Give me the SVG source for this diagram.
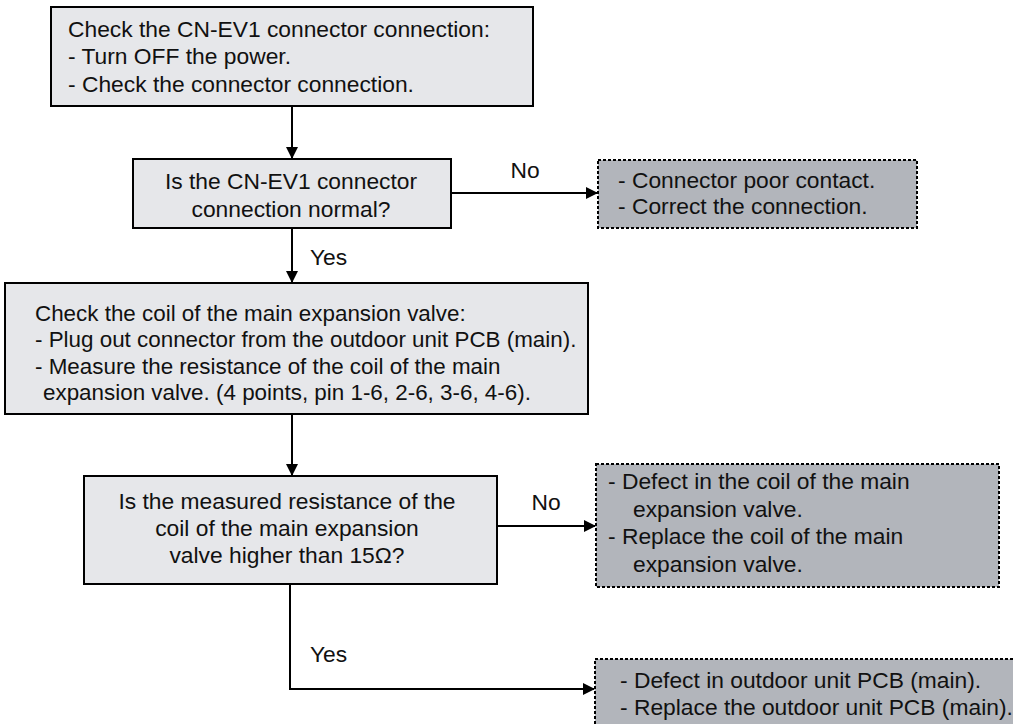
<svg xmlns="http://www.w3.org/2000/svg" width="1013" height="724" viewBox="0 0 1013 724">
<defs>
<marker id="ah" markerWidth="12" markerHeight="12" refX="11" refY="6" orient="auto" markerUnits="userSpaceOnUse">
<path d="M0,0 L12,6 L0,12 Z" fill="#000"/>
</marker>
<style>
text{font-family:"Liberation Sans",Arial,sans-serif;font-size:22.8px;fill:#111}
.proc{fill:#e6e7ea;stroke:#000;stroke-width:2}
.res{fill:#b2b5bb;stroke:#000;stroke-width:2;stroke-dasharray:3 2}
.c{text-anchor:middle}
.ln{fill:none;stroke:#000;stroke-width:2}
#n4 text{font-size:22.4px}
</style>
</defs>
<rect width="1013" height="724" fill="#fff"/>
<g id="connectors">
<line class="ln" x1="292" y1="106" x2="292" y2="158" marker-end="url(#ah)"/>
<line class="ln" x1="451" y1="193" x2="597" y2="193" marker-end="url(#ah)"/>
<line class="ln" x1="292" y1="228" x2="292" y2="282" marker-end="url(#ah)"/>
<line class="ln" x1="292" y1="414" x2="292" y2="475" marker-end="url(#ah)"/>
<line class="ln" x1="497" y1="526" x2="595" y2="526" marker-end="url(#ah)"/>
<polyline class="ln" points="290,584 290,689 594,689" marker-end="url(#ah)"/>
<text x="525" y="178" class="c">No</text>
<text x="310" y="265">Yes</text>
<text x="546" y="510" class="c">No</text>
<text x="310" y="662">Yes</text>
</g>
<g id="n1">
<rect class="proc" x="51" y="7" width="482" height="99"/>
<text x="68" y="37">Check the CN-EV1 connector connection:</text>
<text x="68" y="64">- Turn OFF the power.</text>
<text x="68" y="92">- Check the connector connection.</text>
</g>
<g id="n2">
<rect class="proc" x="133" y="159" width="318" height="69"/>
<text x="291" y="189" class="c">Is the CN-EV1 connector</text>
<text x="291" y="217" class="c">connection normal?</text>
</g>
<g id="n3">
<rect class="res" x="598" y="160" width="319" height="68"/>
<text x="618" y="188">- Connector poor contact.</text>
<text x="618" y="214">- Correct the connection.</text>
</g>
<g id="n4">
<rect class="proc" x="5" y="283" width="583" height="131"/>
<text x="35" y="321">Check the coil of the main expansion valve:</text>
<text x="35" y="347">- Plug out connector from the outdoor unit PCB (main).</text>
<text x="35" y="374">- Measure the resistance of the coil of the main</text>
<text x="43" y="400">expansion valve. (4 points, pin 1-6, 2-6, 3-6, 4-6).</text>
</g>
<g id="n5">
<rect class="proc" x="84" y="476" width="413" height="108"/>
<text x="287" y="509" class="c">Is the measured resistance of the</text>
<text x="287" y="536" class="c">coil of the main expansion</text>
<text x="287" y="563" class="c">valve higher than 15Ω?</text>
</g>
<g id="n6">
<rect class="res" x="596" y="464" width="403" height="123"/>
<text x="608" y="489">- Defect in the coil of the main</text>
<text x="633" y="517">expansion valve.</text>
<text x="608" y="544">- Replace the coil of the main</text>
<text x="633" y="572">expansion valve.</text>
</g>
<g id="n7">
<rect class="res" x="595" y="659" width="440" height="80"/>
<text x="620" y="688">- Defect in outdoor unit PCB (main).</text>
<text x="620" y="715">- Replace the outdoor unit PCB (main).</text>
</g>
</svg>
